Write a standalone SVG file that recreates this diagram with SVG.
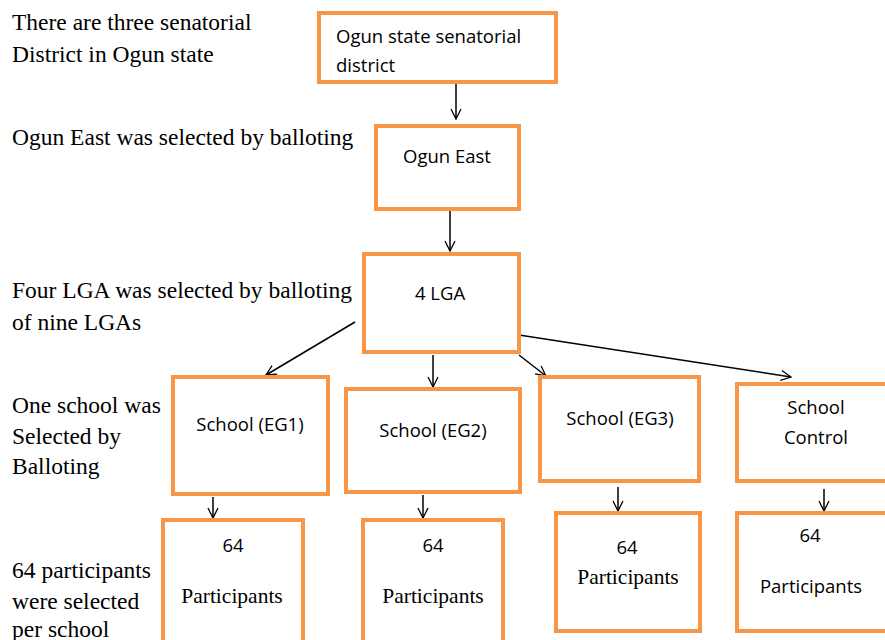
<svg xmlns="http://www.w3.org/2000/svg" width="885" height="640" viewBox="0 0 885 640">
<defs>
<marker id="ah" viewBox="0 0 12 12" refX="11" refY="6" markerWidth="12" markerHeight="12" markerUnits="userSpaceOnUse" orient="auto">
<path d="M1,1 L11,6 L1,11" fill="none" stroke="#000" stroke-width="1.3"/>
</marker>
<style>
.box{fill:#fff;stroke:#F79646;stroke-width:4}
.sans{font-family:"Open Sans","Noto Sans","Liberation Sans",sans-serif;font-size:18.5px;fill:#000}
.serif{font-family:"Liberation Serif","Times New Roman",serif;font-size:23.5px;fill:#000}
.ser2{font-family:"Liberation Serif","Times New Roman",serif;font-size:21.5px;fill:#000}
.c{text-anchor:middle}
.con{stroke:#000;stroke-width:1.5;fill:none;marker-end:url(#ah)}
</style>
</defs>
<rect width="885" height="640" fill="#fff"/>
<g id="labels" class="serif">
<text x="12" y="30">There are three senatorial</text>
<text x="12" y="62">District in Ogun state</text>
<text x="12" y="145">Ogun East was selected by balloting</text>
<text x="12" y="298">Four LGA was selected by balloting</text>
<text x="12" y="330">of nine LGAs</text>
<text x="12" y="413">One school was</text>
<text x="12" y="444">Selected by</text>
<text x="12" y="474">Balloting</text>
<text x="12" y="578">64 participants</text>
<text x="12" y="609">were selected</text>
<text x="12" y="637">per school</text>
</g>
<g id="connectors">
<line class="con" x1="456" y1="83" x2="456" y2="119"/>
<line class="con" x1="450" y1="210" x2="450" y2="251"/>
<line class="con" x1="355" y1="322" x2="266" y2="375"/>
<line class="con" x1="433" y1="355" x2="433" y2="387"/>
<line class="con" x1="519" y1="355" x2="546" y2="376"/>
<line class="con" x1="519" y1="335" x2="791" y2="377"/>
<line class="con" x1="213" y1="497" x2="213" y2="518"/>
<line class="con" x1="423" y1="495" x2="423" y2="518"/>
<line class="con" x1="618" y1="487" x2="618" y2="511"/>
<line class="con" x1="824" y1="489" x2="824" y2="511"/>
</g>
<g id="n-senatorial">
<rect class="box" x="319" y="13" width="237" height="69"/>
<text class="sans" x="336" y="43">Ogun state senatorial</text>
<text class="sans" x="336" y="72">district</text>
</g>
<g id="n-ogun-east">
<rect class="box" x="376" y="126" width="143" height="83"/>
<text class="sans c" x="447" y="163">Ogun East</text>
</g>
<g id="n-lga">
<rect class="box" x="364" y="254" width="155" height="98"/>
<text class="sans c" x="440" y="300">4 LGA</text>
</g>
<g id="n-eg1">
<rect class="box" x="173" y="377" width="155" height="117"/>
<text class="sans c" x="250" y="431">School (EG1)</text>
</g>
<g id="n-eg2">
<rect class="box" x="346" y="389" width="174" height="103"/>
<text class="sans c" x="433" y="437">School (EG2)</text>
</g>
<g id="n-eg3">
<rect class="box" x="540" y="377" width="159" height="104"/>
<text class="sans c" x="620" y="425">School (EG3)</text>
</g>
<g id="n-control">
<rect class="box" x="737" y="384" width="152" height="97"/>
<text class="sans c" x="816" y="414">School</text>
<text class="sans c" x="816" y="444">Control</text>
</g>
<g id="n-p1">
<rect class="box" x="163" y="520" width="140" height="130"/>
<text class="sans c" x="233" y="552">64</text>
<text class="ser2 c" x="232" y="603">Participants</text>
</g>
<g id="n-p2">
<rect class="box" x="363" y="520" width="140" height="130"/>
<text class="sans c" x="433" y="552">64</text>
<text class="ser2 c" x="433" y="603">Participants</text>
</g>
<g id="n-p3">
<rect class="box" x="556" y="513" width="144" height="118"/>
<text class="sans c" x="627" y="554">64</text>
<text class="ser2 c" x="628" y="584">Participants</text>
</g>
<g id="n-p4">
<rect class="box" x="737" y="513" width="152" height="118"/>
<text class="sans c" x="810" y="542">64</text>
<text class="sans c" x="811" y="593">Participants</text>
</g>
</svg>
